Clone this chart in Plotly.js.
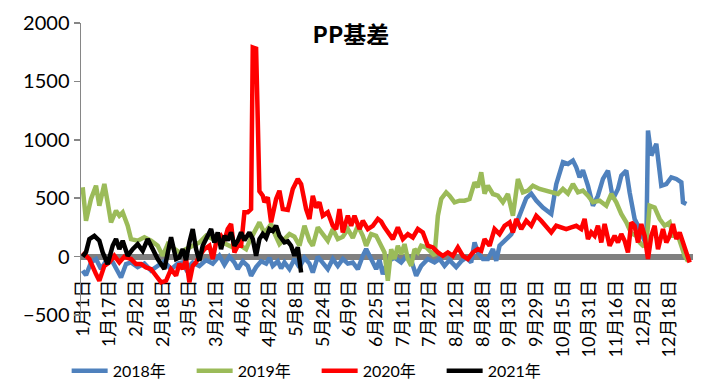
<!DOCTYPE html>
<html>
<head>
<meta charset="utf-8">
<script src="https://cdn.plot.ly/plotly-3.0.1.min.js"></script>
<style>html,body{margin:0;padding:0;background:#fff;}#chart{width:709px;height:386px;}</style>
</head>
<body>
<div id="chart"></div>
<script>
// Day-of-year index (0 = 1月1日, leap-year calendar) and basis values
var tickDays = [0,16,32,48,64,80,96,112,128,144,160,176,192,208,224,240,256,272,288,304,320,336,352];
var tickLabels = ["1月1日","1月17日","2月2日","2月18日","3月5日","3月21日","4月6日","4月22日","5月8日","5月24日","6月9日","6月25日","7月11日","7月27日","8月12日","8月28日","9月13日","9月29日","10月15日","10月31日","11月16日","12月2日","12月18日"];

var days2018 = [0,2,5,8,11,14,17,20,23,26,29,33,37,41,45,49,53,57,60,62,66,70,74,78,82,85,88,91,93,96,99,101,104,107,110,112,114,117,119,121,124,127,130,133,136,138,141,144,147,150,153,156,159,162,165,168,170,173,176,178,180,183,187,191,194,197,200,203,207,211,214,217,220,224,227,230,233,235,237,240,243,246,248,250,252,254,257,260,263,266,269,272,276,281,284,286,288,291,294,296,298,300,303,306,309,312,315,318,321,323,326,328,331,333,336,338,339,341,344,347,350,353,356,359,360,362];
var basis2018 = [-120,-160,-50,-21,-107,-36,-21,-107,-179,-64,-50,-90,-60,-120,-80,-40,-110,-60,-50,-107,-50,-80,-30,-60,7,-70,0,-50,-107,-40,-80,-164,-90,-40,-60,-10,-80,-40,-100,-50,-107,-21,-93,-10,-60,-136,0,-50,-107,-20,-80,-20,-60,-50,-107,7,64,-20,-107,-30,-150,-40,-10,-50,0,-30,-164,-80,-21,-50,-20,-79,-30,-90,-40,-10,-50,121,36,-21,-21,64,-36,93,120,150,190,280,380,500,540,480,420,365,620,722,808,793,822,765,680,740,607,436,521,665,736,493,579,693,736,550,322,264,150,100,1079,865,965,607,620,679,665,636,465,450];

var days2019 = [0,2,5,8,10,13,15,17,20,22,24,27,29,33,37,41,45,48,51,55,58,62,66,70,74,78,82,86,90,94,98,100,103,106,109,111,113,115,118,121,124,127,130,133,136,138,141,144,147,150,153,156,159,162,165,168,170,173,176,179,181,183,185,187,189,191,193,195,197,199,201,203,206,208,211,213,215,218,220,223,226,229,232,235,237,239,241,243,246,249,252,255,258,261,264,267,270,274,278,282,285,288,291,294,297,300,303,306,310,314,317,320,323,326,329,332,334,336,338,340,343,346,349,352,354,357,359,361,363];
var basis2019 = [593,307,493,607,436,622,465,293,393,350,379,264,150,136,165,136,93,7,107,64,36,64,93,121,178,150,121,107,80,100,64,130,207,293,200,236,279,200,107,150,193,170,93,264,136,93,250,193,136,236,150,170,236,160,264,178,93,193,178,93,36,-207,64,-21,93,20,107,-21,-79,64,36,93,80,50,7,350,493,550,522,465,479,479,493,636,593,722,540,607,536,522,465,536,350,665,550,565,607,579,565,550,536,579,540,622,550,565,522,465,479,436,536,465,365,293,200,178,121,93,100,436,420,322,264,293,178,178,93,7,-40];

var days2020 = [0,4,8,10,13,16,19,22,25,29,32,35,38,41,44,47,50,53,56,58,60,62,64,66,68,70,73,76,78,80,83,85,87,89,91,93,95,97,99,101,102,104,106,108,109,111,113,116,118,120,123,126,129,131,134,136,138,140,142,144,147,150,152,154,156,159,161,163,166,168,171,174,177,179,181,183,186,189,192,195,198,201,204,207,210,213,216,219,222,225,228,231,234,237,239,241,244,247,250,253,256,258,260,263,266,269,272,275,278,281,284,287,290,293,296,299,301,303,305,307,309,311,313,316,319,321,323,325,327,329,331,333,335,337,339,341,343,345,348,350,352,354,356,358,360,362,364];
var basis2020 = [36,-21,-150,-207,-79,-50,7,-50,0,-21,-64,-64,-93,-107,-164,-221,-207,-107,-164,-60,-107,-21,-221,-79,-50,7,64,93,-21,121,178,136,236,279,36,93,93,379,379,407,1790,1780,560,521,465,508,293,493,564,407,400,579,665,620,407,322,521,420,465,350,379,264,236,407,207,350,264,350,236,307,236,264,322,300,250,207,150,250,150,193,164,236,207,93,79,36,7,36,7,79,7,-21,36,64,50,150,93,236,193,264,293,207,322,236,307,264,350,307,250,207,264,250,236,250,264,236,322,150,207,178,264,121,279,93,178,121,193,136,36,293,264,121,279,178,-21,178,264,64,236,121,178,279,150,207,121,64,-50];

var days2021 = [0,2,4,7,10,12,15,18,20,22,24,27,30,33,36,39,42,45,49,53,56,58,60,62,64,66,68,70,72,74,77,79,81,83,85,87,89,91,93,95,97,100,102,104,106,108,110,112,114,116,118,121,123,125,127,129,131];
var basis2021 = [0,38,150,178,136,36,-64,93,150,64,136,7,64,107,50,150,64,-21,-107,165,-21,-7,64,-29,121,236,64,-36,93,150,236,121,207,64,178,140,207,93,136,207,140,207,150,7,150,193,160,236,220,264,178,121,130,93,7,79,-136];

var seriesNames = ["2018年","2019年","2020年","2021年"];
var seriesColors = ["#4F81BD","#9BBB59","#FF0000","#000000"];
var seriesDays = [days2018, days2019, days2020, days2021];
var seriesVals = [basis2018, basis2019, basis2020, basis2021];

var FONT = 'Lato, "Noto Sans CJK SC", sans-serif';

var traces = seriesNames.map(function(n, i){
  return {
    type: 'scatter', mode: 'lines', name: n,
    x: seriesDays[i], y: seriesVals[i],
    line: {color: seriesColors[i], width: 4.5, shape: 'linear'},
    hoverinfo: 'skip'
  };
});

var layout = {
  width: 709, height: 386,
  margin: {l: 81, r: 16, t: 23, b: 71, pad: 0},
  paper_bgcolor: '#ffffff', plot_bgcolor: '#ffffff',
  showlegend: true,
  title: {text: '<b>PP基差</b>', x: 0.495, xanchor: 'center', xref: 'container',
          y: 0.909, yanchor: 'middle', yref: 'container',
          font: {size: 23, family: '"Noto Sans CJK SC", Lato, sans-serif', color: '#000'}},
  xaxis: {
    range: [-1, 366], tickmode: 'array', tickvals: tickDays, ticktext: tickLabels,
    tickangle: -90, showgrid: false, zeroline: false,
    showline: true, linecolor: '#808080', linewidth: 6,
    anchor: 'free', position: 0.2, ticks: '', ticklabelstandoff: 13,
    tickfont: {size: 18, family: FONT, color: '#000'},
    layer: 'below traces', fixedrange: true, automargin: false
  },
  yaxis: {
    range: [-500, 2000], tickmode: 'linear', tick0: 0, dtick: 500,
    showgrid: false, zeroline: false, showline: true, linecolor: '#868686', linewidth: 1.5,
    ticks: 'outside', ticklen: 6, tickcolor: '#868686', tickwidth: 1.5,
    tickfont: {size: 20, family: FONT, color: '#000'}, fixedrange: true, automargin: false
  },
  legend: {
    orientation: 'h', x: 0.094, xanchor: 'left', xref: 'container',
    y: 0.039, yanchor: 'middle', yref: 'container',
    font: {size: 16, family: FONT, color: '#000'},
    itemwidth: 36, entrywidth: 74, entrywidthmode: 'pixels',
    bgcolor: 'rgba(0,0,0,0)', borderwidth: 0
  }
};

Plotly.newPlot('chart', traces, layout, {displayModeBar: false, staticPlot: true});
</script>
</body>
</html>
